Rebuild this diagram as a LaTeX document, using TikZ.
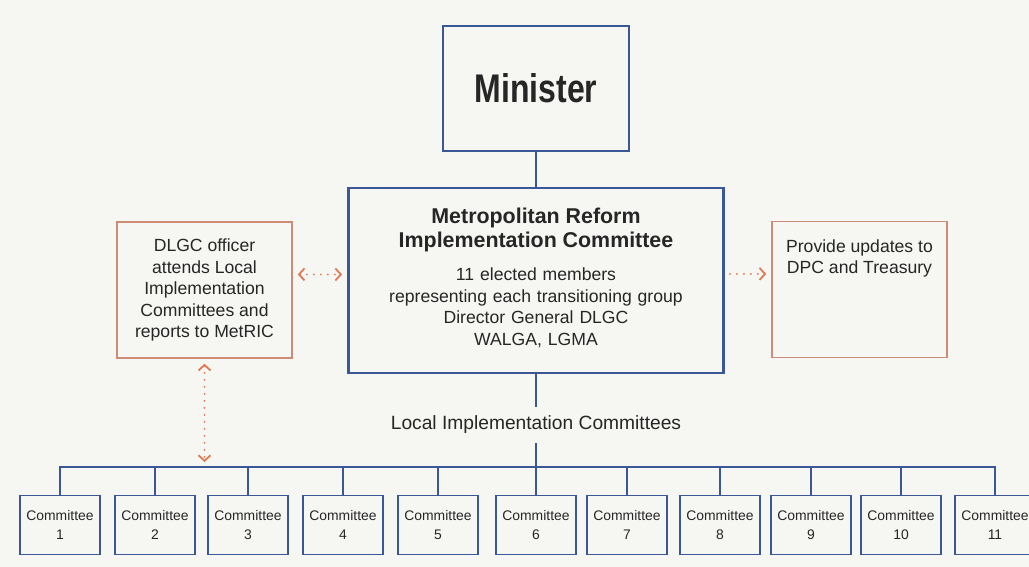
\documentclass[tikz,border=0pt]{standalone}
\usepackage{fontspec}
\setmainfont{Liberation Sans}
\newfontfamily\ministerfont{Liberation Sans}[FakeStretch=0.8]
\usetikzlibrary{arrows.meta, positioning}
\definecolor{boxblue}{RGB}{58,88,152}
\definecolor{boxorange}{RGB}{205,140,118}
\definecolor{arrorange}{RGB}{222,122,84}
\definecolor{inkgray}{RGB}{38,38,38}
\definecolor{paper}{RGB}{246,246,243}

\begin{document}
\begin{tikzpicture}[x=1pt, y=-1pt,
      bluebox/.style={draw=boxblue, line width=2.8pt, rectangle,
                      align=center, text=inkgray},
      orangebox/.style={draw=boxorange, line width=1.5pt, rectangle,
                        minimum width=175pt, minimum height=136pt,
                        align=center, text=inkgray,
                        font=\fontsize{17.6}{21.5}\selectfont},
      cbox/.style={draw=boxblue, line width=1.8pt, rectangle,
                   minimum width=80pt, minimum height=59pt, inner sep=1pt,
                   align=center, text=inkgray,
                   font=\fontsize{13.9}{19}\selectfont},
      conn/.style={draw=boxblue, line width=2pt},
      dots/.style={draw=arrorange, line width=2.1pt, line cap=round,
                   dash pattern=on 0pt off 7pt,
                   shorten <=5pt, shorten >=5pt},
      darr/.style={dots, {Straight Barb[length=5.5pt, width=12pt, line width=1.8pt]}-{Straight Barb[length=5.5pt, width=12pt, line width=1.8pt]}},
      sarr/.style={dots, -{Straight Barb[length=5.5pt, width=12pt, line width=1.8pt]}}
    ]
    \useasboundingbox (0,0) rectangle (1029,567);
    \fill[paper] (0,0) rectangle (1029,567);

    % top
    \node[bluebox, minimum width=186pt, minimum height=125pt,
          font={\ministerfont\fontsize{40}{44}\selectfont\bfseries}] (minister) at (536,88.5) {Minister};

    % MetRIC
    \node[bluebox, minimum width=375pt, minimum height=185pt, text width=360pt,
          font=\fontsize{17.6}{21.5}\selectfont] (mric) at (536,280.5)
      {{\fontsize{21.4}{24}\selectfont\bfseries Metropolitan Reform\\ Implementation Committee\par}\vspace{12pt}
       11 elected members\\ representing each transitioning group\\ Director General DLGC\\ WALGA, LGMA\par\vspace{6pt}};

    % side boxes
    \node[orangebox] (dlgc) at (204.5,290) {DLGC officer\\ attends Local\\ Implementation\\ Committees and\\ reports to MetRIC};
    \node[orangebox] (dpc) at (859.5,289.5) {};
    \node[below=19pt of dpc.north, align=center, inner sep=0pt, text=inkgray,
          font=\fontsize{17.6}{21}\selectfont] (dpctxt) {Provide updates to\\ DPC and Treasury};

    % local committees
    \node[text=inkgray, inner sep=9pt, font=\fontsize{19.2}{22}\selectfont] (lic) at (536,425) {Local Implementation Committees};
    \foreach \cx [count=\i] in {60,155,248,343,438,536,627,720,811,901,995} {
      \node[cbox] (c\i) at (\cx,525) {Committee\\ \i};
      \coordinate (bus\i) at (\cx,467);
      \draw[conn] (c\i.north) -- (bus\i);
    }

    % lines
    \draw[conn] (minister) -- (mric);
    \draw[conn] (mric) -- (lic);
    \draw[conn] (lic) -- (lic |- bus1);
    \draw[conn, line cap=rect] (bus1) -- (bus11);

    % dotted links
    \draw[darr] (dlgc.10) -- (dlgc.10 -| mric.west);
    \draw[sarr] (dpc.170 -| mric.east) -- (dpc.170);
    \draw[darr] (dlgc.south) -- (dlgc.south |- bus1);
  \end{tikzpicture}
\end{document}
